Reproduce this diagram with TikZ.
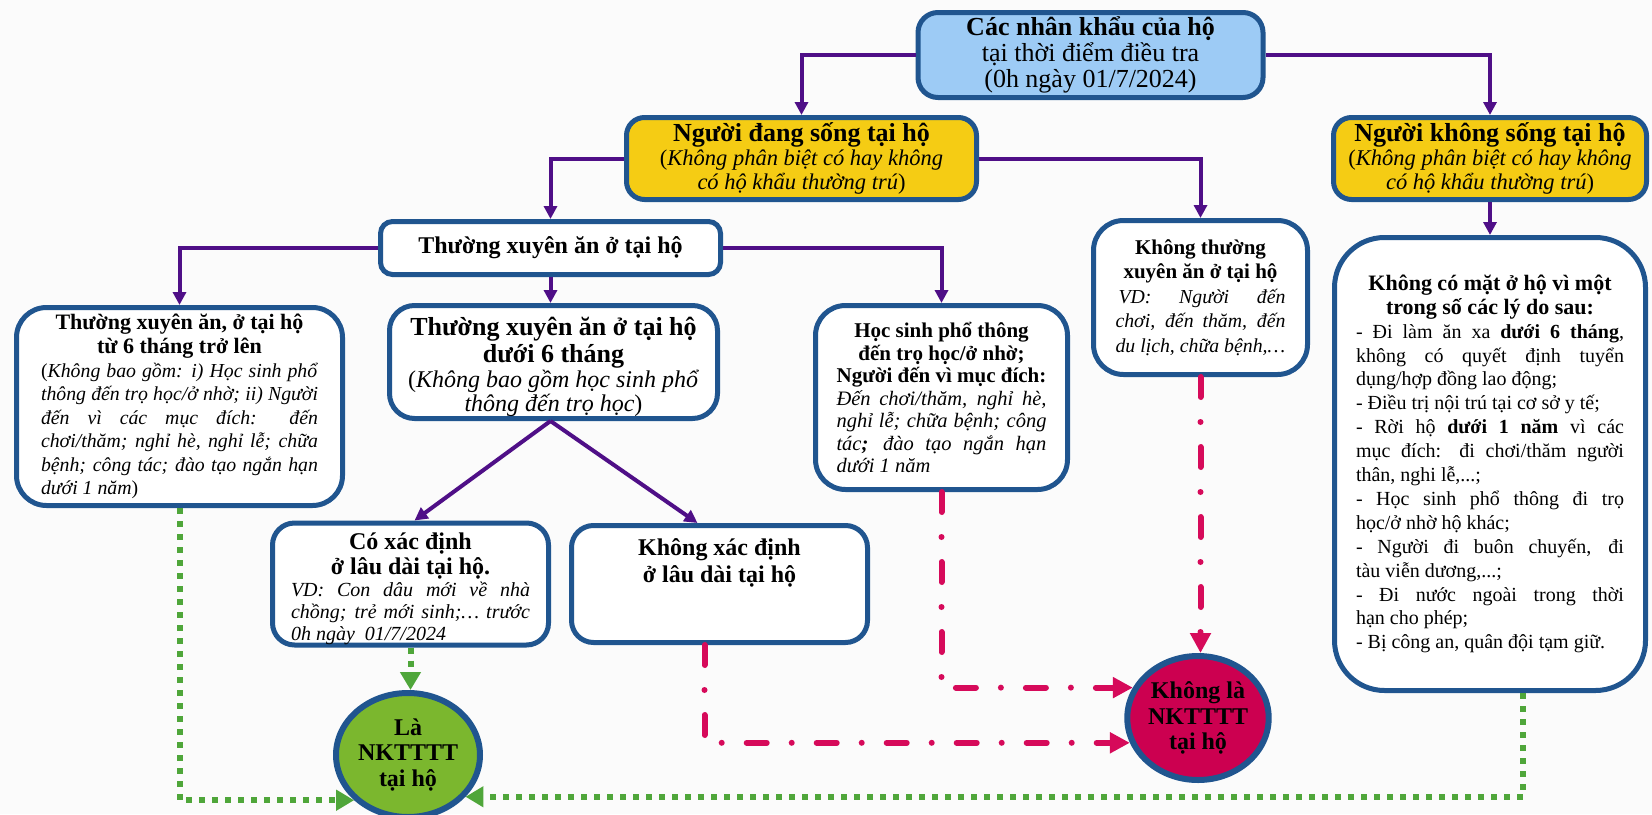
\documentclass[tikz,border=0pt]{standalone}
\usepackage{fontspec}
\setmainfont{Liberation Serif}
\usetikzlibrary{arrows.meta,shapes.geometric}
\definecolor{bordc}{HTML}{20558F}
\definecolor{purpc}{HTML}{4F0F87}
\definecolor{redc}{HTML}{D60A5A}
\definecolor{redfill}{HTML}{CC0050}
\definecolor{grnc}{HTML}{4FA63A}
\definecolor{grnfill}{HTML}{7BB72E}
\definecolor{topfill}{HTML}{9DCBF5}
\definecolor{ylwfill}{HTML}{F5CC14}
\definecolor{bgc}{HTML}{FBFBFB}
\newcommand\bxC[1]{\hbox to\hsize{\hfil#1\hfil}}
\newcommand\bxJ[1]{\hbox to\hsize{#1}}
\newcommand\bxL[1]{\hbox to\hsize{#1\hfil}}
\newcommand\bxF[2]{\fontsize{#1}{#2}\selectfont}
\tikzset{
  box/.style={draw=bordc, line width=5pt, rounded corners=#1, inner sep=0pt, fill=white},
  box/.default=25pt,
  circ/.style={ellipse, draw=bordc, line width=6pt, inner sep=0pt, minimum width=144pt, minimum height=124pt},
  purpl/.style={draw=purpc, line width=4pt, -{Triangle[length=13pt,width=13pt]}},
  redl/.style={draw=redc, line width=6pt, line cap=round, dash pattern=on 20pt off 25pt on 0pt off 25pt, -{Triangle[length=20pt,width=20pt]}},
  grnl/.style={draw=grnc, line width=6pt, dash pattern=on 6pt off 7pt, -{Triangle[length=18pt,width=20pt]}}
}
\begin{document}
\begin{tikzpicture}[x=1pt,y=-1pt]
\fill[bgc] (0,0) rectangle (1652,814);
\useasboundingbox (0,0) rectangle (1652,814);

\node[box=20pt, fill=topfill, minimum width=345pt, minimum height=85pt] (top) at (1090.5,55) {\vbox{\hsize=340pt \bxF{26}{26}
\bxC{\bfseries Các nhân khẩu của hộ}
\bxC{tại thời điểm điều tra}
\bxC{(0h ngày 01/7/2024)}}};

\node[box=18pt, fill=ylwfill, minimum width=350pt, minimum height=82pt] (ylw) at (801.5,158.5) {\vbox{\hsize=340pt \bxF{26}{26}
\bxC{\bfseries Người đang sống tại hộ}
\bxF{22.5}{24}
\bxC{(\textit{Không phân biệt có hay không}}
\bxC{\textit{có hộ khẩu thường trú})}}};

\node[box=18pt, fill=ylwfill, minimum width=313pt, minimum height=82pt] (ynl) at (1490,158.5) {\vbox{\hsize=305pt \bxF{26}{26}
\bxC{\bfseries Người không sống tại hộ}
\bxF{22.5}{24}
\bxC{(\textit{Không phân biệt có hay không}}
\bxC{\textit{có hộ khẩu thường trú})}}};

\node[box=12pt, minimum width=340pt, minimum height=53pt, font=\bxF{24}{26}\bfseries] (tx) at (550.5,248) {Thường xuyên ăn ở tại hộ};

\node[box=30pt, minimum width=214pt, minimum height=154pt] (kt) at (1200.5,297.5) {\vbox{\hsize=170pt \bxF{21}{24.5}\bfseries
\bxC{Không thường}
\bxC{xuyên ăn ở tại hộ}
\mdseries\itshape\bxF{19.8}{24.5}
\bxJ{\kern3pt VD: Người đến}
\bxJ{chơi, đến thăm, đến}
\bxL{du lịch, chữa bệnh,…}}};

\node[box=50pt, minimum width=311pt, minimum height=453pt] (big) at (1490,464) {\vbox{\hsize=268pt \bxF{22}{23.9}\bfseries
\bxC{Không có mặt ở hộ vì một}
\bxC{trong số các lý do sau:}
\mdseries\bxF{20}{23.9}
\bxJ{- Đi làm ăn xa \textbf{dưới 6 tháng},}
\bxJ{không có quyết định tuyển}
\bxL{dụng/hợp đồng lao động;}
\bxL{- Điều trị nội trú tại cơ sở y tế;}
\bxJ{- Rời hộ \textbf{dưới 1 năm} vì các}
\bxJ{mục đích: đi chơi/thăm người}
\bxL{thân, nghi lễ,...;}
\bxJ{- Học sinh phổ thông đi trọ}
\bxL{học/ở nhờ hộ khác;}
\bxJ{- Người đi buôn chuyến, đi}
\bxL{tàu viễn dương,...;}
\bxJ{- Đi nước ngoài trong thời}
\bxL{hạn cho phép;}
\bxL{- Bị công an, quân đội tạm giữ.}}};

\node[box=30pt, minimum width=326pt, minimum height=198pt] (lb) at (179.5,406.5) {\vbox{\hsize=277pt \bxF{22}{24}\bfseries
\bxC{Thường xuyên ăn, ở tại hộ}
\bxC{từ 6 tháng trở lên}
\mdseries\bxF{19.8}{23.5}
\bxJ{(\textit{Không bao gồm: i) Học sinh phổ}}
\bxJ{\itshape thông đến trọ học/ở nhờ; ii) Người}
\bxJ{\itshape đến vì các mục đích: đến}
\bxJ{\itshape chơi/thăm; nghỉ hè, nghỉ lễ; chữa}
\bxJ{\itshape bệnh; công tác; đào tạo ngắn hạn}
\bxL{\textit{dưới 1 năm})}}};

\node[box=25pt, minimum width=328pt, minimum height=113pt] (mid) at (553.5,362) {\vbox{\hsize=320pt \vskip 10pt \bxF{26}{27}\bfseries
\bxC{Thường xuyên ăn ở tại hộ}
\bxC{dưới 6 tháng}
\mdseries\bxF{24}{24.5}
\bxC{(\textit{Không bao gồm học sinh phổ}}
\bxC{\textit{thông đến trọ học})}}};

\node[box=30pt, minimum width=252pt, minimum height=184pt] (hs) at (941.5,397.5) {\vbox{\hsize=210pt \bxF{21}{22.5}\bfseries
\bxC{Học sinh phổ thông}
\bxC{đến trọ học/ở nhờ;}
\bxC{Người đến vì mục đích:}
\mdseries\itshape\bxF{20.5}{22.5}
\bxJ{Đến chơi/thăm, nghỉ hè,}
\bxJ{nghỉ lễ; chữa bệnh; công}
\bxJ{tác\textbf{;} đào tạo ngắn hạn}
\bxL{dưới 1 năm}}};

\node[box=22pt, minimum width=276pt, minimum height=117pt] (cxd) at (410.5,584) {\vbox{\hsize=239pt \vskip 10pt \bxF{24}{25}\bfseries
\bxC{Có xác định}
\bxC{ở lâu dài tại hộ.}
\mdseries\itshape\bxF{20}{22}
\bxJ{VD: Con dâu mới về nhà}
\bxJ{chồng; trẻ mới sinh;… trước}
\bxL{0h ngày\ \ 01/7/2024}}};

\node[box=22pt, minimum width=296pt, minimum height=117pt] (kxd) at (719.5,584) {\vbox{\hsize=280pt \bxF{24}{27}\bfseries
\bxC{Không xác định}
\bxC{ở lâu dài tại hộ}
\vskip 42pt}};

\node[circ, fill=grnfill] (greenc) at (408,755) {\vbox{\hsize=100pt \bxF{24}{25.5}\bfseries
\bxC{Là}\bxC{NKTTTT}\bxC{tại hộ}}};

\node[circ, fill=redfill, minimum width=140pt] (redcirc) at (1198,718) {\vbox{\hsize=100pt \bxF{24}{25.5}\bfseries
\bxC{Không là}\bxC{NKTTTT}\bxC{tại hộ}}};

% purple connectors
\draw[purpl] (top.west) -| (ylw.north);
\draw[purpl] (top.east) -| (ynl.north);
\draw[purpl] (ylw.west) -| (tx.north);
\draw[purpl] (ylw.east) -| (kt.north);
\draw[purpl] (ynl.south) -- (big.north);
\draw[purpl] (tx.west) -| (lb.north);
\draw[purpl] (tx.south) -- (tx.south |- mid.north);
\draw[purpl] (tx.east) -| (hs.north);
\draw[purpl] ([xshift=-3pt]mid.south) -- ([xshift=4pt]cxd.north);
\draw[purpl] ([xshift=-3pt]mid.south) -- ([xshift=-22pt]kxd.north);

% red connectors
\draw[redl] (hs.south) |- (redcirc.155);
\draw[redl] ([xshift=-15pt]kxd.south) |- (redcirc.200);
\draw[redl] (kt.south) -- (kt.south |- redcirc.north);

% green connectors
\draw[grnl] (lb.south) |- (greenc.220);
\draw[grnl] (cxd.south) -- (cxd.south |- greenc.north);
\draw[grnl] ([xshift=33pt]big.south) |- (greenc.324);
\end{tikzpicture}
\end{document}
